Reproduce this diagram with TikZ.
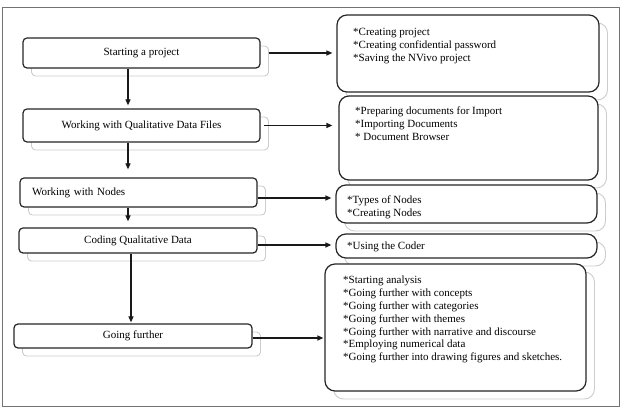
\documentclass[tikz,border=0pt]{standalone}
\usepackage{fontspec}
\setmainfont{Liberation Serif}
\usetikzlibrary{arrows.meta,shadows}
\begin{document}
\begin{tikzpicture}[x=1pt,y=-1pt,
  frame/.style={draw=black!55, line width=0.9pt},
  lbox/.style={draw=black!85, line width=1.2pt, rounded corners=4pt, fill=white, inner sep=0pt,
    font=\fontsize{11}{13}\selectfont,
    general shadow={shadow xshift=8.5pt, shadow yshift=-8pt, draw=black!20, fill=white, line width=0.9pt}},
  rbox/.style={draw=black!85, line width=1.2pt, rounded corners=10pt, fill=white, inner sep=0pt,
    general shadow={shadow xshift=8.5pt, shadow yshift=-8pt, draw=black!20, fill=white, line width=0.9pt}},
  rtext/.style={anchor=north west, align=left, inner sep=0pt, font=\fontsize{11}{12.8}\selectfont},
  arr/.style={-{Triangle[length=6pt,width=5pt]}, line width=1.2pt, black!90}
]
\useasboundingbox (0,0) rectangle (622,411);
\draw[frame] (2,7) rectangle (619,406);

% left boxes
\node[lbox, minimum width=237pt, minimum height=30pt] (L1) at (141.5,53) {Starting a project};
\node[lbox, minimum width=237pt, minimum height=33pt] (L2) at (141.5,125.5) {Working with Qualitative Data Files};
\node[lbox, minimum width=237pt, minimum height=29pt, inner xsep=12pt, text width=213pt, align=left] (L3) at (138.5,192.5) {Working with Nodes};
\node[lbox, minimum width=238pt, minimum height=25pt] (L4) at (138,240.5) {Coding Qualitative Data};
\node[lbox, minimum width=238pt, minimum height=24pt] (L5) at (133,336) {Going further};

% right boxes
\node[rbox, minimum width=262pt, minimum height=77pt] (R1) at (468,53.5) {};
\node[rbox, minimum width=259pt, minimum height=84pt] (R2) at (468.5,138) {};
\node[rbox, minimum width=261pt, minimum height=38pt] (R3) at (466.5,204) {};
\node[rbox, minimum width=261pt, minimum height=24pt] (R4) at (466.5,246) {};
\node[rbox, minimum width=261pt, minimum height=127pt] (R5) at (455.5,327.5) {};

% texts in right boxes
\node[rtext] (T1) at (353,28) {*Creating project\\*Creating confidential password\\*Saving the NVivo project};
\node[rtext] (T2) at (355,107) {*Preparing documents for Import\\*Importing Documents\\* Document Browser};
\node[rtext] (T3) at (347,196) {*Types of Nodes\\*Creating Nodes};
\node[rtext] (T4) at (347,242) {*Using the Coder};
\node[rtext] (T5) at (343,276) {*Starting analysis\\*Going further with concepts\\*Going further with categories\\*Going further with themes\\*Going further with narrative and discourse\\*Employing numerical data\\*Going further into drawing figures and sketches.};

% vertical arrows
\draw[arr, shorten >=3pt] ([xshift=-13.5pt]L1.south) -- ([xshift=-13.5pt]L2.north);
\draw[arr, shorten >=8pt] ([xshift=-13.5pt]L2.south) -- ([xshift=-10.5pt]L3.north);
\draw[arr, shorten >=6pt] ([xshift=-10.5pt]L3.south) -- ([xshift=-10pt]L4.north);
\draw[arr, shorten >=1pt] ([xshift=-7pt]L4.south) -- ([xshift=-2pt]L5.north);

% horizontal arrows
\draw[arr, shorten >=4pt] ([xshift=8pt]L1.east) -- (L1.east -| R1.west);
\draw[arr, shorten >=6pt] ([xshift=3pt]L2.east) -- (L2.east -| R2.west);
\draw[arr, shorten >=4pt] ([yshift=-5.5pt]L3.east) -- ([yshift=-5.5pt]L3.east -| R3.west);
\draw[arr, shorten >=4pt] ([yshift=-4.5pt]L4.east) -- ([yshift=-4.5pt]L4.east -| R4.west);
\draw[arr, shorten >=1pt] ([yshift=-2pt]L5.east) -- ([yshift=-2pt]L5.east -| R5.west);
\end{tikzpicture}
\end{document}
